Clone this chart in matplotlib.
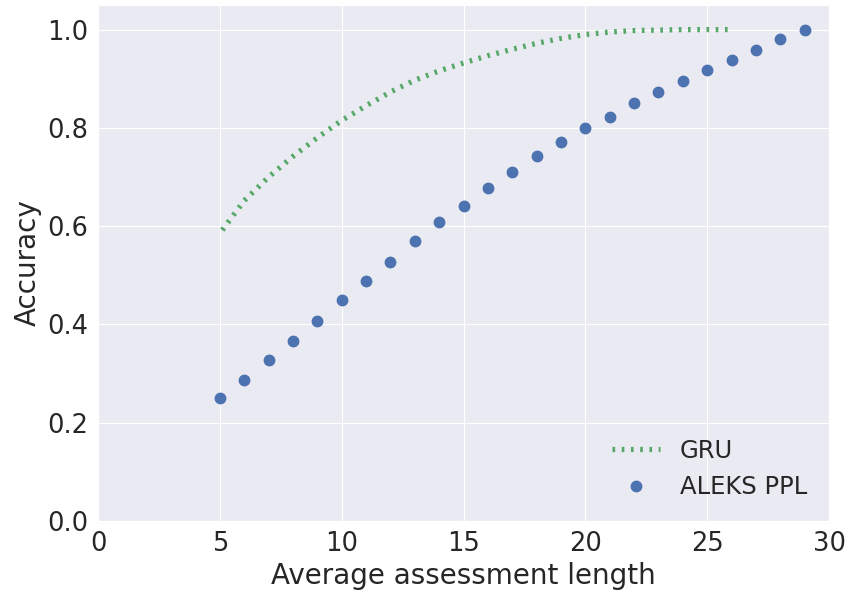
import matplotlib
matplotlib.use('Agg')
import matplotlib.pyplot as plt
import seaborn as sns

sns.set_style('darkgrid')
plt.rcParams['font.family'] = ['DejaVu Sans']

# ALEKS PPL points
ppl_x = list(range(5, 30))
ppl_y = [0.250, 0.287, 0.327, 0.366, 0.407, 0.449, 0.488, 0.528, 0.569, 0.608,
         0.642, 0.677, 0.711, 0.742, 0.772, 0.799, 0.823, 0.850, 0.874, 0.896,
         0.918, 0.939, 0.959, 0.980, 1.000]

# GRU curve
gru_x = [5.1, 6, 7, 8, 9, 10, 11, 12, 13, 14, 15, 16, 17, 18, 19, 20,
         21, 22, 23, 24, 25, 26]
gru_y = [0.592, 0.652, 0.700, 0.742, 0.780, 0.815, 0.845, 0.873, 0.897, 0.916,
         0.932, 0.947, 0.960, 0.972, 0.982, 0.990, 0.995, 0.998, 0.999, 1.0,
         1.0, 1.0]

fig = plt.figure(figsize=(8.48, 5.97), dpi=100)
ax = fig.add_axes([0.1156, 0.1273, 0.862, 0.8643])

ax.plot(gru_x, gru_y, linewidth=3.8, color='#55a868', label='GRU',
        dashes=(0.5, 1.25), dash_capstyle='butt')
ax.plot(ppl_x, ppl_y, 'o', markersize=7.5, color='#4c72b0', label='ALEKS PPL')

ax.set_xlim(0, 30)
ax.set_ylim(0, 1.05)
ax.set_yticks([0.0, 0.2, 0.4, 0.6, 0.8, 1.0])
ax.tick_params(labelsize=18.5)
ax.set_xlabel('Average assessment length', fontsize=20)
ax.set_ylabel('Accuracy', fontsize=20)
ax.legend(loc='lower right', frameon=False, fontsize=17.5)

plt.savefig('out.png', dpi=100)
plt.close('all')
